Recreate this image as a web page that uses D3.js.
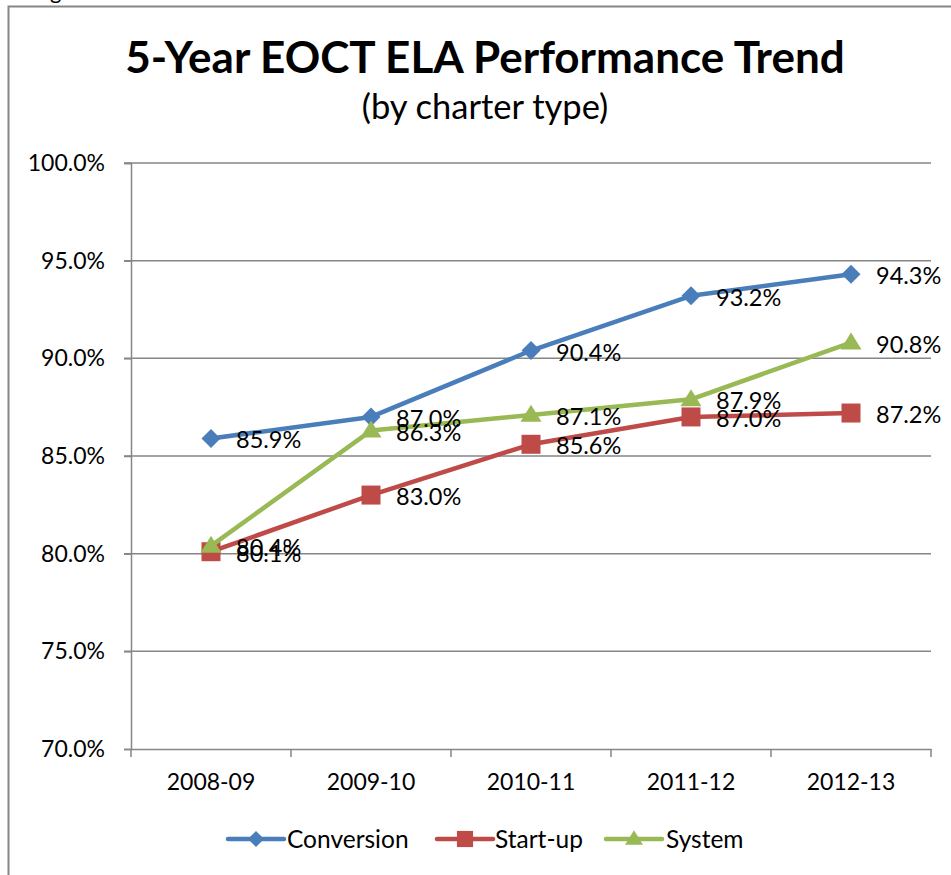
<!DOCTYPE html>
<html>
<head>
<meta charset="utf-8">
<script src="https://cdn.jsdelivr.net/npm/d3@7"></script>
<style>
  html, body { margin: 0; padding: 0; background: #fff; }
  svg { display: block; }
  text { font-family: Lato, "Open Sans", sans-serif; fill: #000; }
</style>
</head>
<body>
<svg id="chart" width="951" height="875"></svg>
<script>
const categories = ["2008-09", "2009-10", "2010-11", "2011-12", "2012-13"];
const conversion = [85.9, 87.0, 90.4, 93.2, 94.3];
const startup = [80.1, 83.0, 85.6, 87.0, 87.2];
const system = [80.4, 86.3, 87.1, 87.9, 90.8];
const yTicks = [70, 75, 80, 85, 90, 95, 100];
const seriesNames = ["Conversion", "Start-up", "System"];
const seriesColors = ["#4A7EBB", "#BE4B48", "#98B954"];
const seriesShapes = ["diamond", "square", "triangle"];

const series = [conversion, startup, system].map((vals, i) => ({
  name: seriesNames[i], color: seriesColors[i], shape: seriesShapes[i], values: vals
}));

function markerPath(shape, k) {
  k = k || 1;
  if (shape === "diamond") { const r = 9.5 * k; return `M0,${-r}L${r},0L0,${r}L${-r},0Z`; }
  if (shape === "square") { const r = 9.5 * k; return `M${-r},${-r}H${r}V${r}H${-r}Z`; }
  const w = 10.5 * k, h = 17 * k;
  return `M0,${-h * 0.6}L${w},${h * 0.4}L${-w},${h * 0.4}Z`;
}

const svg = d3.select("#chart");
const W = 951, H = 875;

// outer border
svg.append("rect").attr("x", 8.5).attr("y", 6.5).attr("width", W + 20).attr("height", H + 20)
  .attr("fill", "none").attr("stroke", "#868686").attr("stroke-width", 2);

// clipped text at top (descenders of text above)
svg.append("text").attr("x", 50).attr("y", -1).attr("font-size", 22).text("g");

const x = d3.scaleBand().domain(categories).range([131, 931]);
const y = d3.scaleLinear().domain([70, 100]).range([749, 163]);

// title
svg.append("text").attr("x", 485).attr("y", 73).attr("text-anchor", "middle")
  .attr("font-size", 44).attr("font-weight", "bold").text("5-Year EOCT ELA Performance Trend");
svg.append("text").attr("x", 485).attr("y", 119).attr("text-anchor", "middle")
  .attr("font-size", 34.5).text("(by charter type)");

// gridlines
svg.append("g").selectAll("line").data(yTicks.filter(t => t !== 70)).join("line")
  .attr("x1", 124).attr("x2", 931)
  .attr("y1", d => y(d)).attr("y2", d => y(d))
  .attr("stroke", "#868686").attr("stroke-width", 1.5);

// y axis
const yAxis = d3.axisLeft(y).tickValues(yTicks).tickFormat(d => d3.format(".1f")(d) + "%")
  .tickSize(7).tickPadding(19);
const gy = svg.append("g").attr("transform", "translate(131,0)").call(yAxis);
gy.select(".domain").attr("stroke", "#868686").attr("stroke-width", 1.5);
gy.selectAll(".tick line").attr("stroke", "#868686").attr("stroke-width", 1.5);
gy.selectAll(".tick text").attr("font-size", 23).attr("font-family", "Lato, sans-serif").attr("fill", "#000");

// x axis
const xAxis = d3.axisBottom(x).tickSize(0).tickPadding(25);
const gx = svg.append("g").attr("transform", "translate(0,749)").call(xAxis);
gx.select(".domain").attr("stroke", "#868686").attr("stroke-width", 1.5);
gx.selectAll(".tick text").attr("font-size", 23).attr("font-family", "Lato, sans-serif").attr("fill", "#000");
const bounds = categories.map(c => x(c)).concat([x(categories[categories.length - 1]) + x.bandwidth()]);
gx.selectAll(".bound").data(bounds).join("line").attr("class", "bound")
  .attr("x1", d => d).attr("x2", d => d).attr("y1", 0).attr("y2", 8)
  .attr("stroke", "#868686").attr("stroke-width", 1.5);

const cx = c => x(c) + x.bandwidth() / 2;
const line = d3.line().x((d, i) => cx(categories[i])).y(d => y(d));

series.forEach(s => {
  svg.append("path").attr("d", line(s.values)).attr("fill", "none")
    .attr("stroke", s.color).attr("stroke-width", 4.5).attr("stroke-linejoin", "round").attr("stroke-linecap", "round");
  svg.append("g").selectAll("path").data(s.values).join("path")
    .attr("d", markerPath(s.shape))
    .attr("transform", (d, i) => `translate(${cx(categories[i])},${y(d)})`)
    .attr("fill", s.color);
});

// data labels
series.forEach(s => {
  svg.append("g").selectAll("text").data(s.values).join("text")
    .attr("x", (d, i) => cx(categories[i]) + 25)
    .attr("y", d => y(d) + 10)
    .attr("font-size", 23.5)
    .text(d => d3.format(".1f")(d) + "%");
});

// legend
const legendItems = [
  { x1: 228, x2: 284, tx: 287 },
  { x1: 437, x2: 493, tx: 495 },
  { x1: 606, x2: 662, tx: 666 }
];
const ly = 839;
series.forEach((s, i) => {
  const li = legendItems[i];
  svg.append("line").attr("x1", li.x1).attr("x2", li.x2).attr("y1", ly).attr("y2", ly)
    .attr("stroke", s.color).attr("stroke-width", 4.5).attr("stroke-linecap", "round");
  svg.append("path").attr("d", markerPath(s.shape, 0.85))
    .attr("transform", `translate(${(li.x1 + li.x2) / 2},${ly})`).attr("fill", s.color);
  svg.append("text").attr("x", li.tx).attr("y", ly + 8.5).attr("font-size", 24.5).text(s.name);
});
</script>
</body>
</html>
